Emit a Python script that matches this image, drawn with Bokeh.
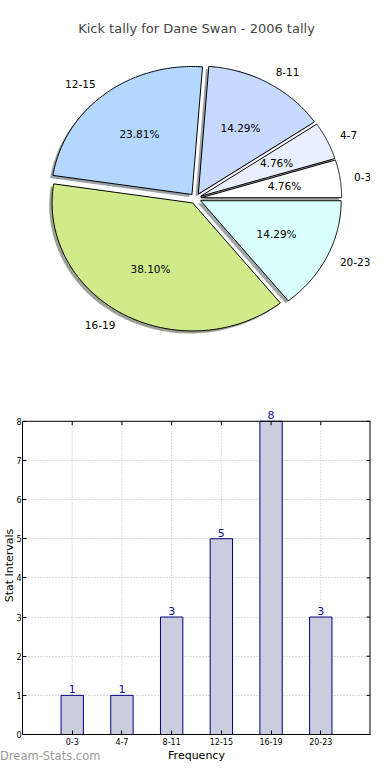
import numpy as np
from bokeh.plotting import figure
from bokeh.layouts import column
from bokeh.models import (ColumnDataSource, FactorRange, Range1d, LabelSet, Div,
                          FixedTicker)
from bokeh.embed import file_html
from bokeh.resources import INLINE
from bokeh.core.properties import value

# ---------------- data ----------------
categories = ["0-3", "4-7", "8-11", "12-15", "16-19", "20-23"]
counts = [1, 1, 3, 5, 8, 3]
pie_colors = ["#ffffff", "#e8f0ff", "#c6d9ff", "#b3d7ff", "#d0eb8a", "#d9ffff"]
explode = [0.04, 0.04, 0.04, 0.04, 0.04, 0.04]
y_ticks = [0, 1, 2, 3, 4, 5, 6, 7, 8]
title_text = "Kick tally for Dane Swan - 2006 tally"
x_label = "Frequency"
y_label = "Stat Intervals"
watermark = "Dream-Stats.com"

FONT = "DejaVu Sans"
W = 374
LEFT, RIGHT = 21, 4           # horizontal borders shared by both figures
OFF_X, OFF_Y = 0, 0           # observed picture offsets

# ---------------- pie ----------------
total = float(sum(counts))
fracs = np.array(counts) / total
ends = np.cumsum(fracs) * 2 * np.pi
starts = ends - fracs * 2 * np.pi
mids = (starts + ends) / 2

xs, ys, sxs, sys_, shadow_cols = [], [], [], [], []
lab_x, lab_y, lab_align, pct_x, pct_y, pct_txt = [], [], [], [], [], []
for s, e, m, ex, col, f in zip(starts, ends, mids, explode, pie_colors, fracs):
    cx, cy = ex * np.cos(m), ex * np.sin(m)
    t = np.linspace(s, e, 120)
    px = np.concatenate([[cx], cx + np.cos(t), [cx]])
    py = np.concatenate([[cy], cy + np.sin(t), [cy]])
    xs.append(px.tolist()); ys.append(py.tolist())
    sxs.append((px - 0.02).tolist()); sys_.append((py - 0.02).tolist())
    r, g, b = (int(col[i:i + 2], 16) for i in (1, 3, 5))
    shadow_cols.append("#%02x%02x%02x" % (int(r * 0.3), int(g * 0.3), int(b * 0.3)))
    lab_x.append(cx + 1.1 * np.cos(m)); lab_y.append(cy + 1.1 * np.sin(m))
    lab_align.append("left" if np.cos(m) > 0 else "right")
    pct_x.append(cx + 0.6 * np.cos(m)); pct_y.append(cy + 0.6 * np.sin(m))
    pct_txt.append("%.2f%%" % (f * 100))

pie_src = ColumnDataSource(dict(xs=xs, ys=ys, sxs=sxs, sys=sys_, color=pie_colors,
                                shadow=shadow_cols))
lab_src = ColumnDataSource(dict(x=lab_x, y=lab_y, text=categories, align=lab_align))
pct_src = ColumnDataSource(dict(x=pct_x, y=pct_y, text=pct_txt))

TOP_BORDER = 40
PIE_H = 392
frame_h = PIE_H - TOP_BORDER
fl, fr = OFF_X + LEFT, OFF_X + W - RIGHT
CX, CY = 194.5, 198.0
RX, RY = 141.0, 128.0
cyp = CY - OFF_Y - TOP_BORDER
p1 = figure(width=W, height=PIE_H, output_backend="svg", toolbar_location=None,
            x_range=Range1d(-(CX - fl) / RX, (fr - CX) / RX),
            y_range=Range1d(-(frame_h - cyp) / RY, cyp / RY),
            x_axis_location=None, y_axis_location=None,
            min_border_left=LEFT, min_border_right=RIGHT, min_border_bottom=0,
            min_border_top=TOP_BORDER, title=title_text)
p1.title.align = "center"
p1.title.text_font = FONT
p1.title.text_font_size = "13px"
p1.title.text_font_style = "normal"
p1.grid.visible = False
p1.outline_line_color = None

p1.patches("sxs", "sys", source=pie_src, fill_color="shadow", fill_alpha=0.5,
           line_color=None)
p1.patches("xs", "ys", source=pie_src, fill_color="color", line_color="black",
           line_width=1)
p1.text("x", "y", text="text", source=lab_src, text_align="align",
        text_baseline="middle", text_font=value(FONT), text_font_size="10.5px",
        text_color="black")
p1.text("x", "y", text="text", source=pct_src, text_align="center",
        text_baseline="middle", text_font=value(FONT), text_font_size="10.5px",
        text_color="black")

# ---------------- bars ----------------
n = len(categories)
x_lo, x_hi = -0.5, n + 0.5            # synthetic edges of the factor range
y_top = max(y_ticks)
bar_src = ColumnDataSource(dict(x=categories, top=counts, label=[str(c) for c in counts],
                                y0=[0] * n, y1=[y_top] * n))
tick_src = ColumnDataSource(dict(x=[x_hi] * len(y_ticks), y=y_ticks))

P2_H = 372
P2_TOP = 4
frame_bottom = PIE_H + P2_H - 27      # x axis needs about 27 px
px_unit = (frame_bottom - 421.0) / y_top
p2 = figure(width=W, height=P2_H, output_backend="svg", toolbar_location=None,
            x_range=FactorRange(factors=categories, range_padding=0.5,
                                range_padding_units="absolute"),
            y_range=Range1d(0, y_top + (421.0 - PIE_H - P2_TOP) / px_unit),
            min_border_left=LEFT, min_border_right=RIGHT, min_border_top=P2_TOP,
            min_border_bottom=0)
p2.outline_line_color = None
p2.xgrid.visible = False
p2.ygrid.ticker = FixedTicker(ticks=y_ticks)
p2.ygrid.grid_line_color = "#b8b8b8"
p2.ygrid.grid_line_dash = "1 2"

# vertical dotted grid lines, only inside the 0..8 box
p2.segment(x0="x", y0="y0", x1="x", y1="y1", source=bar_src, line_color="#b8b8b8",
           line_dash="1 2", line_width=1)

p2.vbar(x="x", top="top", width=0.45, source=bar_src, fill_color="#ccccdf",
        line_color="#000080", line_width=1)

# top and right edges of the axes box
p2.segment(x0=[x_lo], y0=[y_top], x1=[x_hi], y1=[y_top], line_color="black", line_width=1)
p2.segment(x0=[x_hi], y0=[0], x1=[x_hi], y1=[y_top], line_color="black", line_width=2)
# mirrored inward ticks on top and right
p2.ray(x="x", y="y1", source=bar_src, length=4, length_units="screen",
       angle=-np.pi / 2, line_color="black", line_width=1)
p2.ray(x="x", y="y", source=tick_src, length=4, length_units="screen",
       angle=np.pi, line_color="black", line_width=1)

p2.yaxis.ticker = FixedTicker(ticks=y_ticks)
p2.yaxis.bounds = (0, y_top)
for ax in (p2.xaxis, p2.yaxis):
    ax.axis_line_color = "black"
    ax.major_tick_in = 4
    ax.major_tick_out = 0
    ax.minor_tick_line_color = None
    ax.major_tick_line_color = "black"
    ax.major_label_text_font = FONT
    ax.major_label_text_font_size = "8px"
    ax.major_label_text_color = "black"
    ax.axis_label_text_font = FONT
    ax.axis_label_text_font_size = "11px"
    ax.axis_label_text_font_style = "normal"
    ax.axis_label_text_color = "black"
p2.xaxis.axis_label = x_label
p2.yaxis.axis_label = y_label
p2.xaxis.major_label_standoff = 3
p2.xaxis.axis_label_standoff = 1
p2.yaxis.major_label_standoff = 1
p2.yaxis.axis_label_standoff = -3

p2.add_layout(LabelSet(x="x", y="top", text="label", source=bar_src, y_offset=2,
                       text_align="center", text_baseline="bottom",
                       text_font=value(FONT), text_font_size="11px",
                       text_color="#10109a"))

mark = Div(text=watermark, width=110, height=16, margin=(-16, 0, 0, 0),
           styles={"font-family": FONT, "font-size": "11.5px", "color": "#999999",
                   "line-height": "16px", "white-space": "nowrap"})

layout = column(p1, p2, mark, spacing=0)
open("out.html", "w").write(file_html(layout, INLINE))
